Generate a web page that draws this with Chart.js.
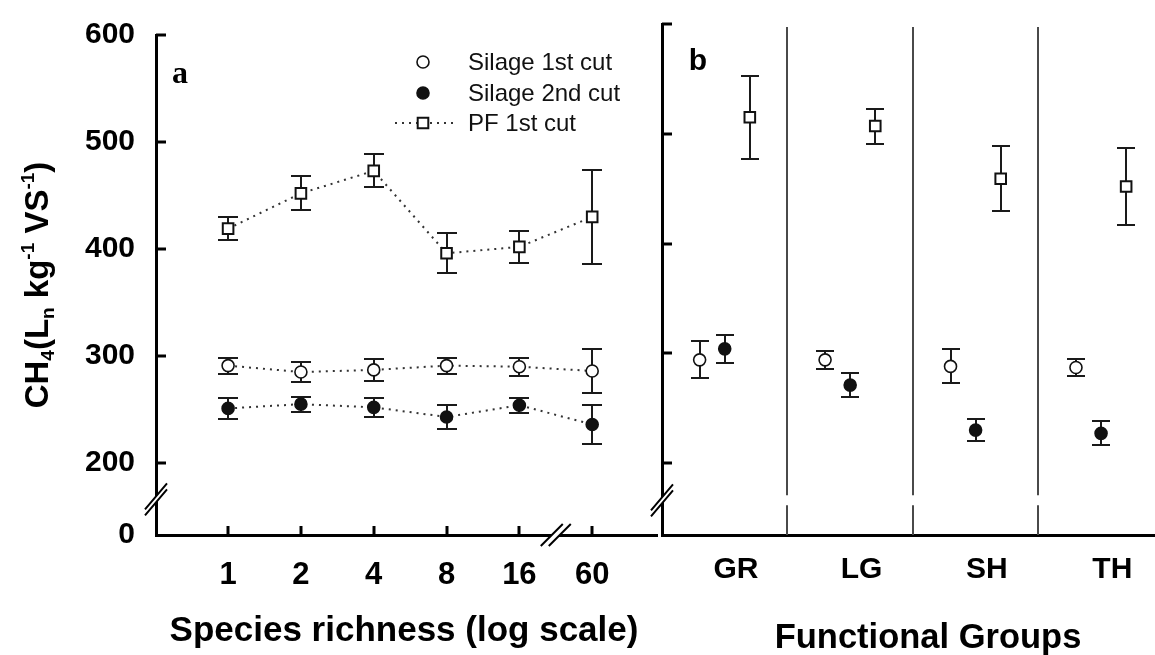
<!DOCTYPE html>
<html>
<head>
<meta charset="utf-8">
<script src="https://cdn.jsdelivr.net/npm/chart.js@4.4.0/dist/chart.umd.min.js"></script>
<style>
  html, body { margin: 0; padding: 0; background: #fff; }
  #wrap { position: relative; width: 1155px; height: 655px; overflow: hidden; background: #fff; }
  canvas { position: absolute; top: 0; }
  #panelA { left: 0; }
  #panelB { left: 640px; }
</style>
</head>
<body>
<div id="wrap">
  <canvas id="panelA" width="660" height="655"></canvas>
  <canvas id="panelB" width="515" height="655"></canvas>
</div>
<script>
// ---- categories and labels ----
const richness = ['1', '2', '4', '8', '16', '60'];
const groups = ['GR', 'LG', 'SH', 'TH'];
const seriesNames = ['Silage 1st cut', 'Silage 2nd cut', 'PF 1st cut'];
const yTickValues = [200, 300, 400, 500, 600];
const floorLabel = '0';

// ---- panel a: methane yield by species richness (mean, ± error) ----
const silage1Mean = [291, 285, 287, 291, 290, 286];
const silage1Err  = [7.5, 9, 10, 7.5, 8.5, 21];
const silage2Mean = [251, 255, 252, 243, 254, 236];
const silage2Err  = [10, 7, 9, 11, 7, 18.5];
const pf1Mean     = [419, 452, 473, 396, 402, 430];
const pf1Err      = [11, 16, 15.5, 18.5, 15, 44];

// ---- panel b: methane yield by functional group (mean, ± error) ----
const fgSilage1Mean = [294, 294, 288, 287];
const fgSilage1Err  = [17, 8, 15.5, 7.7];
const fgSilage2Mean = [304, 271, 230, 227];
const fgSilage2Err  = [12.5, 11, 10, 11];
const fgPf1Mean     = [515, 507, 459, 452];
const fgPf1Err      = [38, 16, 29.5, 35];

// ---- styling ----
const SANS = "'Liberation Sans', Arial, sans-serif";
const SERIF = "'Liberation Serif', 'Times New Roman', serif";
const markerStyles = [
  { pointStyle: 'circle', pointRadius: 6, pointBackgroundColor: '#fff', pointBorderColor: '#111', pointBorderWidth: 1.6 },
  { pointStyle: 'circle', pointRadius: 6, pointBackgroundColor: '#111', pointBorderColor: '#111', pointBorderWidth: 1.6 },
  { pointStyle: 'rect', pointRadius: 7.5, pointBackgroundColor: '#fff', pointBorderColor: '#111', pointBorderWidth: 2 }
];
const breakValue = 166;       // where the value axis is broken
const dodge = [0.3, 0.5, 0.7]; // horizontal placement of the three series inside a group
const groupLabelPos = 0.59;

// keep the plot area exactly where the layout padding puts it
function noEdgePadding(s) {
  s.paddingLeft = 0; s.paddingRight = 0; s.paddingTop = 0; s.paddingBottom = 0;
}

function drawErrorBars(chart, capHalf) {
  const ctx = chart.ctx, ys = chart.scales.y;
  ctx.save();
  ctx.strokeStyle = '#1a1a1a';
  ctx.lineWidth = 2;
  chart.data.datasets.forEach((ds, di) => {
    const meta = chart.getDatasetMeta(di);
    meta.data.forEach((pt, i) => {
      const m = ds.data[i].y, e = ds.err[i];
      const yT = Math.round(ys.getPixelForValue(m + e));
      const yB = Math.round(ys.getPixelForValue(m - e));
      const x = Math.round(pt.x);
      ctx.beginPath();
      ctx.moveTo(x, yT); ctx.lineTo(x, yB);
      ctx.moveTo(x - capHalf, yT); ctx.lineTo(x + capHalf, yT);
      ctx.moveTo(x - capHalf, yB); ctx.lineTo(x + capHalf, yB);
      ctx.stroke();
    });
  });
  ctx.restore();
}

function drawInsideYTicks(chart, len) {
  const ctx = chart.ctx, ys = chart.scales.y, x0 = chart.chartArea.left;
  ctx.save();
  ctx.strokeStyle = '#000';
  ctx.lineWidth = 3;
  yTickValues.forEach(v => {
    const y = Math.round(ys.getPixelForValue(v));
    ctx.beginPath(); ctx.moveTo(x0, y); ctx.lineTo(x0 + len, y); ctx.stroke();
  });
  ctx.restore();
}

// slanted double stroke across a vertical axis, cutting the axis between them
function drawBreakOnVertical(ctx, x, y) {
  const dx = 11, dy = 13, gap = 3;
  ctx.save();
  ctx.fillStyle = '#fff';
  ctx.beginPath();
  ctx.moveTo(x - dx, y + dy - gap); ctx.lineTo(x + dx, y - dy - gap);
  ctx.lineTo(x + dx, y - dy + gap); ctx.lineTo(x - dx, y + dy + gap);
  ctx.closePath(); ctx.fill();
  ctx.strokeStyle = '#000'; ctx.lineWidth = 2;
  ctx.beginPath();
  ctx.moveTo(x - dx, y + dy - gap); ctx.lineTo(x + dx, y - dy - gap);
  ctx.moveTo(x - dx, y + dy + gap); ctx.lineTo(x + dx, y - dy + gap);
  ctx.stroke();
  ctx.restore();
}

// slanted double stroke across a horizontal axis
function drawBreakOnHorizontal(ctx, x, y) {
  const dx = 11, dy = 11, gap = 4;
  ctx.save();
  ctx.fillStyle = '#fff';
  ctx.beginPath();
  ctx.moveTo(x - gap - dx, y + dy); ctx.lineTo(x - gap + dx, y - dy);
  ctx.lineTo(x + gap + dx, y - dy); ctx.lineTo(x + gap - dx, y + dy);
  ctx.closePath(); ctx.fill();
  ctx.strokeStyle = '#000'; ctx.lineWidth = 2;
  ctx.beginPath();
  ctx.moveTo(x - gap - dx, y + dy); ctx.lineTo(x - gap + dx, y - dy);
  ctx.moveTo(x + gap - dx, y + dy); ctx.lineTo(x + gap + dx, y - dy);
  ctx.stroke();
  ctx.restore();
}

function drawMarker(ctx, style, x, y) {
  ctx.save();
  ctx.fillStyle = style.pointBackgroundColor;
  ctx.strokeStyle = style.pointBorderColor;
  ctx.lineWidth = style.pointBorderWidth;
  Chart.helpers.drawPoint(ctx, { pointStyle: style.pointStyle, radius: style.pointRadius, rotation: 0, borderWidth: style.pointBorderWidth }, x, y);
  ctx.restore();
}

// rotated value-axis title with sub/superscripts
function drawYTitle(ctx, cx, cy) {
  const runs = [
    ['CH', 'm'], ['4', 'sub'], ['(L', 'm'], ['n', 'sub'], [' kg', 'm'], ['-1', 'sup'],
    [' VS', 'm'], ['-1', 'sup'], [')', 'm']
  ];
  const fontFor = k => k === 'm' ? `bold 33px ${SANS}` : `bold 19px ${SANS}`;
  const shift = { m: 0, sub: 6, sup: -14 };
  ctx.save();
  ctx.translate(cx, cy);
  ctx.rotate(-Math.PI / 2);
  ctx.fillStyle = '#000';
  ctx.textBaseline = 'alphabetic';
  let total = 0;
  runs.forEach(([t, k]) => { ctx.font = fontFor(k); total += ctx.measureText(t).width; });
  let x = -total / 2;
  runs.forEach(([t, k]) => {
    ctx.font = fontFor(k);
    ctx.fillText(t, x, shift[k]);
    x += ctx.measureText(t).width;
  });
  ctx.restore();
}

// ================= panel a =================
const minA = 132.7;
const seriesA = [
  [silage1Mean, silage1Err],
  [silage2Mean, silage2Err],
  [pf1Mean, pf1Err]
];

const panelAPlugin = {
  id: 'panelADecor',
  beforeDatasetsDraw(chart) {
    drawErrorBars(chart, 10);
  },
  afterDraw(chart) {
    const ctx = chart.ctx, area = chart.chartArea;
    const xs = chart.scales.x, ys = chart.scales.y;
    drawInsideYTicks(chart, 10);
    // category ticks pointing up from the baseline
    ctx.save();
    ctx.strokeStyle = '#000'; ctx.lineWidth = 3;
    richness.forEach((_, i) => {
      const x = Math.round(xs.getPixelForValue(i));
      ctx.beginPath(); ctx.moveTo(x, area.bottom); ctx.lineTo(x, area.bottom - 9); ctx.stroke();
    });
    ctx.restore();
    drawBreakOnVertical(ctx, area.left, ys.getPixelForValue(breakValue));
    drawBreakOnHorizontal(ctx, xs.getPixelForValue(richness.length - 1.5), area.bottom);

    // legend
    const lx = 423, tx = 468, rows = [62, 93, 123];
    ctx.save();
    ctx.strokeStyle = '#333'; ctx.lineWidth = 2; ctx.setLineDash([2, 5]);
    ctx.beginPath(); ctx.moveTo(395, rows[2]); ctx.lineTo(453, rows[2]); ctx.stroke();
    ctx.restore();
    seriesNames.forEach((name, i) => {
      drawMarker(ctx, markerStyles[i], lx, rows[i]);
      ctx.save();
      ctx.fillStyle = '#111';
      ctx.font = `24px ${SANS}`;
      ctx.textBaseline = 'middle';
      ctx.fillText(name, tx, rows[i] + 1);
      ctx.restore();
    });

    ctx.save();
    ctx.fillStyle = '#000';
    ctx.font = `bold 32px ${SERIF}`;
    ctx.textAlign = 'center'; ctx.textBaseline = 'alphabetic';
    ctx.fillText('a', 180, 83);
    ctx.font = `bold 35px ${SANS}`;
    ctx.textBaseline = 'middle';
    ctx.fillText('Species richness (log scale)', 404, 631);
    ctx.restore();

    drawYTitle(ctx, 48, 285);
  }
};

new Chart(document.getElementById('panelA'), {
  type: 'line',
  data: {
    datasets: seriesA.map(([mean, err], s) => Object.assign({
      label: seriesNames[s],
      data: mean.map((v, i) => ({ x: i, y: v })),
      err: err,
      borderColor: '#333',
      borderWidth: 2,
      borderDash: [2, 5],
      fill: false,
      tension: 0
    }, markerStyles[s]))
  },
  options: {
    responsive: false,
    animation: false,
    layout: { autoPadding: false, padding: { top: 35, right: 3, left: 0, bottom: 0 } },
    plugins: { legend: { display: false }, tooltip: { enabled: false } },
    scales: {
      x: {
        type: 'linear', min: -0.99, max: 5.89,
        grid: { display: false, drawTicks: false },
        border: { display: true, color: '#000', width: 3 },
        afterBuildTicks: s => { s.ticks = richness.map((_, i) => ({ value: i })); },
        afterFit: s => { s.height = 120; noEdgePadding(s); },
        ticks: {
          autoSkip: false, maxRotation: 0, padding: 22, color: '#000',
          font: { family: SANS, size: 31, weight: 'bold' },
          callback: v => richness[v]
        }
      },
      y: {
        type: 'linear', min: minA, max: 600,
        grid: { display: false, drawTicks: false },
        border: { display: true, color: '#000', width: 3 },
        afterBuildTicks: s => { s.ticks = [minA, ...yTickValues].map(v => ({ value: v })); },
        afterFit: s => { s.width = 156; noEdgePadding(s); },
        ticks: {
          padding: 21, color: '#000',
          font: { family: SANS, size: 30, weight: 'bold' },
          callback: v => (v === minA ? floorLabel : String(v))
        }
      }
    }
  },
  plugins: [panelAPlugin]
});

// ================= panel b =================
const minB = 134.4;
const seriesB = [
  [fgSilage1Mean, fgSilage1Err],
  [fgSilage2Mean, fgSilage2Err],
  [fgPf1Mean, fgPf1Err]
];

const panelBPlugin = {
  id: 'panelBDecor',
  beforeDatasetsDraw(chart) {
    const ctx = chart.ctx, area = chart.chartArea;
    const xs = chart.scales.x, ys = chart.scales.y;
    const yb = ys.getPixelForValue(breakValue);
    ctx.save();
    ctx.strokeStyle = '#4a4a4a'; ctx.lineWidth = 2;
    for (let g = 1; g < groups.length; g++) {
      const x = Math.round(xs.getPixelForValue(g));
      ctx.beginPath();
      ctx.moveTo(x, area.top + 3); ctx.lineTo(x, yb - 5);
      ctx.moveTo(x, yb + 5); ctx.lineTo(x, area.bottom);
      ctx.stroke();
    }
    ctx.restore();
    drawErrorBars(chart, 9);
  },
  afterDraw(chart) {
    const ctx = chart.ctx, area = chart.chartArea, ys = chart.scales.y;
    drawInsideYTicks(chart, 10);
    drawBreakOnVertical(ctx, area.left, ys.getPixelForValue(breakValue));
    ctx.save();
    ctx.fillStyle = '#000';
    ctx.font = `bold 30px ${SANS}`;
    ctx.textAlign = 'center'; ctx.textBaseline = 'alphabetic';
    ctx.fillText('b', area.left + 36, 70);
    ctx.font = `bold 34.5px ${SANS}`;
    ctx.textBaseline = 'middle';
    ctx.fillText('Functional Groups', 288, 638);
    ctx.restore();
  }
};

new Chart(document.getElementById('panelB'), {
  type: 'line',
  data: {
    datasets: seriesB.map(([mean, err], s) => Object.assign({
      label: seriesNames[s],
      data: mean.map((v, i) => ({ x: i + dodge[s], y: v })),
      err: err,
      showLine: false
    }, markerStyles[s]))
  },
  options: {
    responsive: false,
    animation: false,
    layout: { autoPadding: false, padding: { top: 24, right: 0, left: 0, bottom: 0 } },
    plugins: { legend: { display: false }, tooltip: { enabled: false } },
    scales: {
      x: {
        type: 'linear', min: 0, max: 3.93,
        grid: { display: false, drawTicks: false },
        border: { display: true, color: '#000', width: 3 },
        afterBuildTicks: s => { s.ticks = groups.map((_, i) => ({ value: i + groupLabelPos })); },
        afterFit: s => { s.height = 120; noEdgePadding(s); },
        ticks: {
          autoSkip: false, maxRotation: 0, padding: 17, color: '#000',
          font: { family: SANS, size: 30, weight: 'bold' },
          callback: v => groups[Math.round(v - groupLabelPos)]
        }
      },
      y: {
        type: 'linear', min: minB, max: 600,
        grid: { display: false, drawTicks: false },
        border: { display: true, color: '#000', width: 3 },
        afterBuildTicks: s => { s.ticks = yTickValues.map(v => ({ value: v })); },
        afterFit: s => { s.width = 22; noEdgePadding(s); },
        ticks: { display: false }
      }
    }
  },
  plugins: [panelBPlugin]
});
</script>
</body>
</html>
